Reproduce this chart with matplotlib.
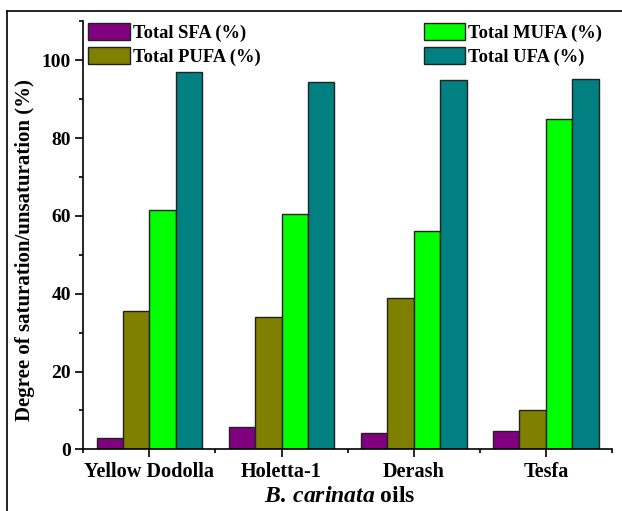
import numpy as np
import matplotlib
matplotlib.use("Agg")
import matplotlib.pyplot as plt
from matplotlib.lines import Line2D
from matplotlib.ticker import MultipleLocator, FixedLocator

plt.rcParams['font.family'] = ['Liberation Serif', 'DejaVu Serif']
plt.rcParams['font.weight'] = 'bold'
plt.rcParams['mathtext.fontset'] = 'custom'
plt.rcParams['mathtext.it'] = 'Liberation Serif:italic:bold'
plt.rcParams['mathtext.rm'] = 'Liberation Serif:bold'

# data
oils = ["Yellow Dodolla", "Holetta-1", "Derash", "Tesfa"]
sfa = [3.0, 5.8, 4.1, 4.7]
pufa = [35.6, 33.9, 38.8, 10.1]
mufa = [61.5, 60.5, 56.1, 84.9]
ufa = [97.0, 94.4, 94.9, 95.1]

series = [
    ("Total SFA (%)", sfa, "#800080"),
    ("Total PUFA (%)", pufa, "#808000"),
    ("Total MUFA (%)", mufa, "#00FF00"),
    ("Total UFA (%)", ufa, "#008080"),
]

W, H = 622, 511
fig = plt.figure(figsize=(W / 100, H / 100), dpi=100)
ax = fig.add_axes([83.3 / W, 1 - 449.3 / H, (612 - 83.3) / W, (449.3 - 21.4) / H])

x = np.arange(len(oils))
bw = 0.2
handles = []
for i, (lab, vals, col) in enumerate(series):
    b = ax.bar(x + (i - 1.5) * bw, vals, bw, color=col, edgecolor="#222222",
               linewidth=1.0, label=lab)
    handles.append(b)

ax.set_xlim(-0.5, len(oils) - 0.5)
ax.set_ylim(0, 110)
ax.spines['top'].set_visible(False)
ax.spines['right'].set_visible(False)
ax.spines['left'].set_linewidth(1.2)
ax.spines['bottom'].set_linewidth(1.2)

ax.set_xticks(x)
ax.set_xticklabels(oils)
ax.xaxis.set_minor_locator(FixedLocator(np.arange(-0.5, len(oils), 1.0)))
ax.yaxis.set_major_locator(MultipleLocator(20))
ax.yaxis.set_minor_locator(MultipleLocator(10))
ax.tick_params(axis='both', which='major', direction='out', length=6, width=1.2,
               pad=3)
ax.tick_params(axis='x', which='major', labelsize=14.6)
ax.tick_params(axis='y', which='major', labelsize=14)
ax.tick_params(axis='both', which='minor', direction='out', length=3, width=1.2)

ax.set_ylabel("Degree of saturation/unsaturation (%)", fontsize=15,
              fontweight='bold')
ax.yaxis.set_label_coords(-0.091, 0.465)
ax.set_xlabel(r"$B.\,carinata$ oils", fontsize=17, fontweight='bold')
ax.xaxis.set_label_coords(0.485, -0.11)
ax.xaxis.label.set_va('center')

ax.legend(handles=handles, ncol=2, loc='upper left',
          bbox_to_anchor=(88 / W, 1 - 23 / H), bbox_transform=fig.transFigure,
          frameon=False, fontsize=13.3, handlelength=2.27, handleheight=1.08,
          labelspacing=0.25, handletextpad=0.15, columnspacing=8.83,
          borderpad=0, borderaxespad=0)

# outer frame around the figure (top and left edges visible)
fig.add_artist(Line2D([7 / W, 1], [1 - 11 / H, 1 - 11 / H], color='black',
                      linewidth=1.2, transform=fig.transFigure))
fig.add_artist(Line2D([7 / W, 7 / W], [0, 1 - 11 / H], color='black',
                      linewidth=1.2, transform=fig.transFigure))

fig.savefig("out.png", dpi=100)
